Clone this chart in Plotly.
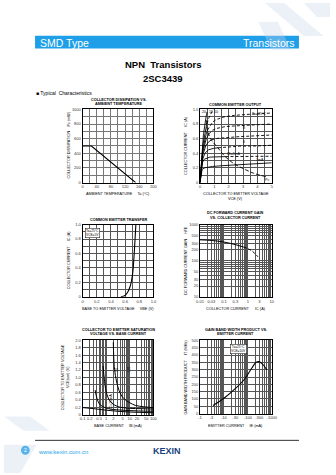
import numpy as np
import plotly.graph_objects as go

W, H = 336, 475
FONT = "Liberation Sans"
BLUE = "#1E9FE8"
GRID = "#555555"

# ---------------- data ----------------
# Collector dissipation vs ambient temperature
ta_pts = [0, 25, 150]
pc_pts = [500, 500, 0]

# Common emitter output: IC (A) vs VCE (V) for a family of base currents
vce_grid = [0, 0.1, 0.2, 0.3, 0.5, 0.75, 1.0, 1.5, 2.0, 3.0, 4.0, 5.0]
ic_family = [
    [0, 0.17, 0.19, 0.20, 0.21, 0.22, 0.22, 0.23, 0.24, 0.25, 0.26, 0.27],
    [0, 0.22, 0.29, 0.32, 0.34, 0.35, 0.35, 0.355, 0.355, 0.36, 0.36, 0.36],
    [0, 0.25, 0.33, 0.39, 0.44, 0.46, 0.47, 0.48, 0.49, 0.50, 0.50, 0.51],
    [0, 0.27, 0.38, 0.46, 0.54, 0.58, 0.60, 0.61, 0.62, 0.63, 0.64, 0.65],
    [0, 0.29, 0.42, 0.52, 0.63, 0.70, 0.73, 0.76, 0.77, 0.78, 0.79, 0.80],
    [0, 0.30, 0.45, 0.57, 0.71, 0.80, 0.85, 0.89, 0.91, 0.93, 0.94, 0.95],
    [0, 0.32, 0.50, 0.64, 0.82, 0.95, 1.02, 1.06, 1.08, 1.10, 1.11, 1.12],
    [0, 0.35, 0.58, 0.76, 0.98, 1.10, 1.15, 1.18, 1.20, 1.22, 1.23, 1.24],
]
ic_limited = [False, True, True, True, True, True, True, True]
pclim_vce = [0.45, 0.52, 0.8, 1.23, 1.68, 2.35, 3.03, 3.7, 4.6]
pclim_ic = [0.85, 0.71, 0.58, 0.48, 0.37, 0.26, 0.19, 0.13, 0.08]

# Common emitter transfer
vbe_pts = [0.54, 0.60, 0.64, 0.67, 0.69, 0.71, 0.73, 0.752]
ic_vbe = [0.0, 0.02, 0.07, 0.14, 0.22, 0.35, 0.62, 1.0]

# DC current gain vs collector current
ic_hfe = [0.01, 0.03, 0.1, 0.3, 0.66]
hfe_pts = [380, 365, 330, 280, 240]
ic_hfe_ext = [0.66, 1.45, 2.3, 3.1]
hfe_ext = [240, 190, 142, 115]

# VCE(sat) vs base current, for several collector currents
ib_sets = [
    [0.1, 0.3, 1, 3, 10, 30, 100],
    [0.34, 0.4, 0.5, 0.7, 1.5, 5, 20, 100],
    [0.74, 0.85, 1.09, 1.6, 3, 10, 30, 100],
    [2.0, 2.2, 2.6, 3.5, 5.4, 10, 17, 40, 100],
]
vsat_sets = [
    [0.19, 0.16, 0.12, 0.09, 0.07, 0.06, 0.05],
    [0.66, 0.45, 0.3, 0.22, 0.15, 0.12, 0.10, 0.09],
    [1.32, 0.9, 0.53, 0.33, 0.22, 0.17, 0.16, 0.15],
    [1.95, 1.3, 0.97, 0.65, 0.44, 0.32, 0.25, 0.21, 0.19],
]

# Gain bandwidth product vs emitter current
ie_pts = [3.5, 11, 27.5, 72, 145, 220, 290, 400, 620]
ft_pts = [55, 110, 165, 235, 310, 350, 355, 340, 300]

# tick labels
t1x = [0, 40, 80, 120, 160, 200]
t1y = [0, 200, 400, 600, 800, 1000]
t2x = [0, 1, 2, 3, 4, 5]
t01 = [0, 0.2, 0.4, 0.6, 0.8, 1.0]
t4x = [0.01, 0.03, 0.1, 0.3, 1, 3, 10]
t4y = [10, 20, 30, 50, 100, 200, 300, 500, 1000]
t5x = [0.1, 0.2, 0.5, 1, 2, 5, 10, 20, 50, 100]
t5y = [0, 0.2, 0.4, 0.6, 0.8, 1.0, 1.2, 1.4, 1.6, 1.8, 2.0]
t6x = [1, 3, 10, 30, 100, 300, 1000]
t6y = [0, 50, 100, 150, 200, 250, 300, 350, 400, 450, 500]

# ---------------- layout helpers ----------------
# panel boxes in page pixels: left, right, top, bottom (panels use axes 2..7)
boxes = {
    7: (81, 154, 107.5, 181.5),
    2: (202, 276, 107.5, 181.5),
    3: (81, 154, 224, 297),
    4: (202, 276, 224, 297),
    5: (81, 154, 341, 416),
    6: (202, 276, 341, 415),
}


def px(x):
    return x / W


def py(y):
    return 1 - y / H


def decade_grid(lo, hi):
    vals = []
    for e in range(lo, hi):
        for m in range(1, 10):
            vals.append(round(m * 10.0 ** e, 6))
    vals.append(10.0 ** hi)
    return vals


def lin_grid(lo, hi, n):
    return [round(lo + (hi - lo) * i / n, 6) for i in range(n + 1)]


def axis(n, kind, rng, grid_vals, labels, fmt_fn=lambda v: f"{v:g}", x=True, grid=GRID):
    l, r, t, b = boxes[n]
    text = []
    for g in grid_vals:
        hit = [lab for lab in labels if abs(lab - g) <= 1e-9 * max(1, abs(lab))]
        text.append(fmt_fn(hit[0]) if hit else "")
    d = dict(
        type=kind, range=rng, tickmode="array", tickvals=grid_vals, ticktext=text,
        showgrid=True, gridcolor=grid, gridwidth=0.4, zeroline=False,
        showline=True, linecolor="black", linewidth=1, mirror=True,
        ticks="", tickangle=0, tickfont=dict(size=4, family=FONT, color="#333"),
        fixedrange=True,
    )
    if x:
        d["domain"] = [px(l), px(r)]
        d["anchor"] = f"y{n}"
    else:
        d["domain"] = [py(b), py(t)]
        d["anchor"] = f"x{n}"
    return d


fig = go.Figure()


def line(n, xs, ys, dash="solid", width=1.1, shape="spline"):
    fig.add_trace(go.Scatter(x=xs, y=ys, mode="lines", xaxis=f"x{n}", yaxis=f"y{n}",
                             line=dict(color="black", width=width, dash=dash, shape=shape),
                             showlegend=False, hoverinfo="skip", connectgaps=False))


# dissipation derating
line(7, ta_pts, pc_pts, shape="linear", width=1.2)

# output family, solid inside the dissipation limit and dashed beyond it
fine = np.linspace(0, 5, 401)
pc_fine = np.interp(fine, pclim_vce, pclim_ic, left=np.inf)
for ic, lim in zip(ic_family, ic_limited):
    yv = np.interp(fine, vce_grid, ic)
    yv = np.where(yv > 1.0, np.nan, yv)
    if lim:
        over = np.where((fine >= pclim_vce[0]) & (np.nan_to_num(yv, nan=9) > pc_fine))[0]
        cut = over[0] if len(over) else len(fine) - 1
    else:
        cut = len(fine) - 1
    line(2, fine[:cut + 1], yv[:cut + 1], width=0.9, shape="linear")
    if cut < len(fine) - 1:
        line(2, fine[cut:], yv[cut:], dash="3px,2px", width=0.9, shape="linear")
line(2, pclim_vce, pclim_ic, dash="4px,2px", width=0.9)

# transfer
line(3, vbe_pts, ic_vbe, width=1.1)

# hFE
line(4, ic_hfe, hfe_pts, width=1.0)
line(4, ic_hfe_ext, hfe_ext, dash="3px,2px", width=1.0)

# saturation voltage
for xs, ys in zip(ib_sets, vsat_sets):
    line(5, xs, ys, width=1.0)

# fT
line(6, ie_pts, ft_pts, width=1.1)

# ---------------- axes ----------------
one_dec = lambda v: "0" if v == 0 else f"{v:.1f}"
lay = {
    "xaxis7": axis(7, "linear", [0, 200], lin_grid(0, 200, 10), t1x, grid="#777777"),
    "yaxis7": axis(7, "linear", [0, 1000], lin_grid(0, 1000, 10), t1y, x=False, grid="#777777"),
    "xaxis2": axis(2, "linear", [0, 5], lin_grid(0, 5, 10), t2x),
    "yaxis2": axis(2, "linear", [0, 1.0], lin_grid(0, 1, 10), t01, one_dec, x=False),
    "xaxis3": axis(3, "linear", [0, 1.0], lin_grid(0, 1, 10), t01, one_dec),
    "yaxis3": axis(3, "linear", [0, 1.0], lin_grid(0, 1, 10), t01, one_dec, x=False),
    "xaxis4": axis(4, "log", [-2, 1], decade_grid(-2, 1), t4x),
    "yaxis4": axis(4, "log", [1, 3], decade_grid(1, 3), t4y, x=False),
    "xaxis5": axis(5, "log", [-1, 2], decade_grid(-1, 2), t5x),
    "yaxis5": axis(5, "linear", [0, 2.0], lin_grid(0, 2, 10), t5y, one_dec, x=False),
    "xaxis6": axis(6, "log", [0, 3], decade_grid(0, 3), t6x, lambda v: f"-{v:g}"),
    "yaxis6": axis(6, "linear", [0, 500], lin_grid(0, 500, 10), t6y, x=False),
}

# ---------------- text ----------------
ann = []


def text(x, y, s, size=4, bold=False, anchor="center", color="black", angle=0):
    if bold:
        s = f"<b>{s}</b>"
    ann.append(dict(x=px(x), y=py(y), xref="paper", yref="paper", text=s, showarrow=False,
                    xanchor=anchor, yanchor="middle", textangle=angle,
                    font=dict(size=size, family=FONT, color=color)))


# header
text(35, 40, "SMD Type", size=10.5, anchor="left", color="white")
text(302, 40, "Transistors", size=10.5, anchor="right", color="white")
text(164, 62, "NPN  Transistors", size=9.5, bold=True)
text(164, 76, "2SC3439", size=9.5, bold=True)
text(31, 91, "■ Typical  Characteristics", size=5, anchor="left")

# chart titles
text(118, 98, "COLLECTOR DISSIPATION VS.", size=3.8, bold=True)
text(118, 102.5, "AMBIENT TEMPERATURE", size=3.8, bold=True)
text(239, 103, "COMMON EMITTER OUTPUT", size=3.8, bold=True)
text(118, 219, "COMMON EMITTER TRANSFER", size=3.8, bold=True)
text(239, 212, "DC FORWARD CURRENT GAIN", size=3.8, bold=True)
text(239, 217, "VS. COLLECTOR CURRENT", size=3.8, bold=True)
text(118, 330, "COLLECTOR TO EMITTER SATURATION", size=3.8, bold=True)
text(118, 335, "VOLTAGE VS. BASE CURRENT", size=3.8, bold=True)
text(239, 330, "GAIN BAND WIDTH PRODUCT VS.", size=3.8, bold=True)
text(239, 335, "EMITTER CURRENT", size=3.8, bold=True)

# axis titles
text(118, 193, "AMBIENT TEMPERATURE     Ta (°C)", size=3.8)
text(239, 193, "COLLECTOR TO EMITTER VOLTAGE", size=3.8)
text(239, 198, "VCE (V)", size=3.8)
text(118, 309, "BASE TO EMITTER VOLTAGE     VBE (V)", size=3.8)
text(239, 309, "COLLECTOR CURRENT      IC (A)", size=3.8)
text(118, 428, "BASE CURRENT     IB (mA)", size=3.8)
text(239, 428, "EMITTER CURRENT     IE (mA)", size=3.8)

text(67, 144, "COLLECTOR DISSIPATION    Pc (mW)", size=3.8, angle=-90)
text(188, 144, "COLLECTOR CURRENT     IC (A)", size=3.8, angle=-90)
text(67, 260, "COLLECTOR CURRENT     IC (A)", size=3.8, angle=-90)
text(188, 260, "DC FORWARD CURRENT GAIN     hFE", size=3.8, angle=-90)
text(61, 378, "COLLECTOR TO EMITTER VOLTAGE", size=3.8, angle=-90)
text(66, 378, "VCE(sat) (V)", size=3.8, angle=-90)
text(188, 378, "GAIN BAND WIDTH PRODUCT     fT (MHz)", size=3.8, angle=-90)


# in-plot labels (data coordinates)
def dtext(n, x, y, s, size=3.6, angle=0, anchor="center", border=False):
    a = dict(x=x, y=y, xref=f"x{n}", yref=f"y{n}", text=s, showarrow=False, xanchor=anchor,
             yanchor="middle", textangle=angle, font=dict(size=size, family=FONT, color="black"))
    if border:
        a.update(bordercolor="black", borderwidth=0.5, borderpad=0.5, bgcolor="white")
    ann.append(a)


dtext(2, 4.1, 0.93, "Ta=25°C")
dtext(2, 0.3, 0.96, "20")
dtext(2, 0.75, 0.96, "15")
dtext(2, 1.1, 0.96, "10")
dtext(2, 3.1, 0.74, "8")
dtext(2, 3.1, 0.56, "6")
dtext(2, 2.3, 0.39, "IB=2mA")
dtext(2, 4.2, 0.31, "1mA")
dtext(2, 4.7, 0.04, "Pc")

dtext(3, 0.03, 0.88, "Ta=25°C<br>VCE=5V", size=3.2, anchor="left", border=True)
dtext(4, 0.0115, 10 ** 2.82, "Ta=25°C<br>VCE=5V", size=3.2, anchor="left", border=True)
dtext(6, 1.25, 440, "Ta=25°C<br>VCE=10V", size=3.2, anchor="left", border=True)

dtext(5, 60, 1.9, "Ta=25°C")
dtext(5, 0.2, 0.35, "IC=10mA", angle=-90)
dtext(5, 0.45, 1.2, "50", angle=-90)
dtext(5, 0.95, 1.2, "100", angle=-90)
dtext(5, 2.7, 1.2, "200", angle=-90)

# footer
text(33, 454, "www.kexin.com.cn", size=6, anchor="left", color=BLUE)
text(168, 453, "KEXIN", size=9, bold=True, color="#1b3f80")
text(22, 452, "2", size=5, color="white")

shapes = [
    dict(type="rect", xref="paper", yref="paper", x0=px(32), x1=px(304), y0=py(46), y1=py(33),
         fillcolor=BLUE, line=dict(width=0)),
    dict(type="line", xref="paper", yref="paper", x0=px(32), x1=px(304), y0=py(442), y1=py(442),
         line=dict(color="#333", width=1)),
    dict(type="circle", xref="paper", yref="paper", x0=px(17.5), x1=px(26.5), y0=py(456.5), y1=py(447.5),
         fillcolor=BLUE, line=dict(width=0)),
]
# faint corner watermarks
for path in [
    "M 0.80 1.0 L 0.86 1.0 L 0.98 0.93 L 0.92 0.93 Z",
    "M 0.78 0.96 L 0.84 0.96 L 0.88 0.90 L 0.82 0.90 Z",
    "M 0.92 1.0 L 1.0 1.0 L 1.0 0.97 L 0.96 0.97 Z",
    "M 0.0 0.12 L 0.08 0.12 L 0.14 0.09 L 0.06 0.09 Z",
    "M 0.0 0.06 L 0.10 0.06 L 0.05 0.0 L 0.0 0.0 Z",
]:
    shapes.append(dict(type="path", xref="paper", yref="paper", path=path,
                       fillcolor="#c9d6ea", opacity=0.35, line=dict(width=0)))

fig.update_layout(
    width=W, height=H, margin=dict(l=0, r=0, t=0, b=0),
    paper_bgcolor="white", plot_bgcolor="white",
    showlegend=False, annotations=ann, shapes=shapes,
    font=dict(family=FONT),
    **lay,
)
fig.write_html("out.html", config={"displayModeBar": False})
